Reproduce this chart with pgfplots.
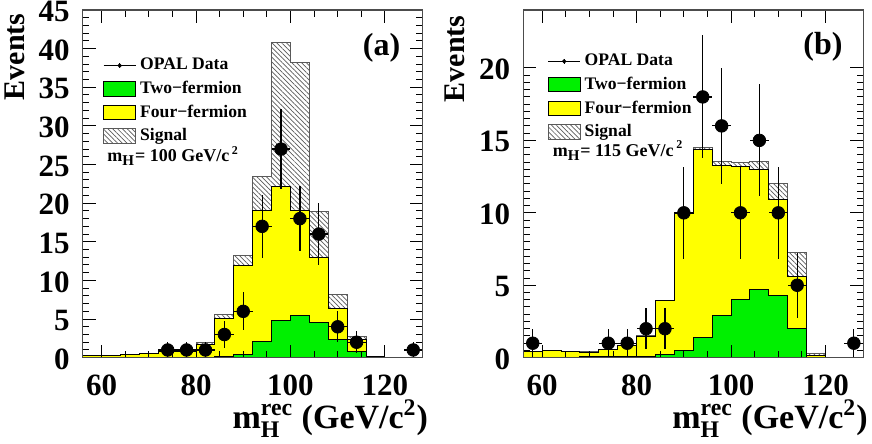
\documentclass[border=0pt]{standalone}
\usepackage{fontspec}
\setmainfont{Liberation Serif}
\usepackage{amsmath}
\usepackage{pgfplots}
\pgfplotsset{compat=1.18}
\usepackage{pgfplotstable}
\usetikzlibrary{patterns.meta}
\definecolor{rootgreen}{RGB}{0,240,0}
\definecolor{rootyellow}{RGB}{255,255,0}

% bin left edges (4 GeV bins), last row closes the histogram
% two = 2f, four = 2f+4f, sig = 2f+4f+signal (stacked tops)
\pgfplotstableread{
x   two  four  sig
56  0.02 0.25  0.30
60  0.02 0.30  0.32
64  0.03 0.40  0.45
68  0.05 0.50  0.55
72  0.05 0.75  0.85
76  0.05 0.85  1.00
80  0.05 1.65  2.00
84  0.20 5.10  5.60
88  0.45 11.9  13.2
92  2.05 19.1  23.5
96  4.80 22.1  40.8
100 5.50 19.1  38.2
104 4.50 13.0  18.9
108 2.30 6.40  8.20
112 0.75 2.30  2.70
116 0.00 0.10  0.15
120 0.00 0.00  0.02
124 0.00 0.00  0.00
128 0.00 0.00  0.00
}\histA

\pgfplotstableread{
x   two  four  sig
56  0.03 0.42  0.46
60  0.03 0.48  0.52
64  0.04 0.42  0.45
68  0.05 0.39  0.42
72  0.05 0.58  0.60
76  0.05 0.81  0.83
80  0.08 1.45  1.50
84  0.20 3.92  3.95
88  0.53 9.92  10.0
92  1.38 14.36 14.52
96  2.90 13.28 13.51
100 4.04 13.17 13.44
104 4.73 12.98 13.56
108 4.27 10.90 12.00
112 2.03 5.60  7.26
116 0.02 0.17  0.26
120 0.00 0.00  0.00
124 0.00 0.00  0.00
128 0.00 0.00  0.00
}\histB

\pgfplotstableread{
x   y  ex ey
74  1  2  1
78  1  2  1
82  1  2  1
86  3  2  1.73
90  6  2  2.45
94  17 2  4.12
98  27 2  5.20
102 18 2  4.24
106 16 2  4.00
110 4  2  2.00
114 2  2  1.41
126 1  2  1
}\dataA

\pgfplotstableread{
x   y  ex ey
58  1  2  1
74  1  2  1
78  1  2  1
82  2  2  1.41
86  2  2  1.41
90  10 2  3.16
94  18 2  4.24
98  16 2  4.00
102 10 2  3.16
106 15 2  3.87
110 10 2  3.16
114 5  2  2.24
126 1  2  1
}\dataB

\pgfplotsset{
  opalaxis/.style={
    scale only axis, width=170pt, height=173.85pt, anchor=south west,
    xmin=56, xmax=128, ymin=0,
    xtick={60,80,100,120}, minor x tick num=3,
    tick align=inside, xtick pos=both, ytick pos=both,
    xticklabel pos=lower, yticklabel pos=left,
    major tick length=6.5pt, minor tick length=3.3pt,
    axis on top,
    axis line style={gray!60!black, line width=0.7pt},
    every tick/.style={black, line width=0.5pt},
    ticklabel style={font=\bfseries\fontsize{15.5}{16}\selectfont},
    xticklabel style={yshift=-5pt},
    yticklabel style={xshift=-3pt, yshift=-0.75pt},
    /pgf/number format/assume math mode=true,
    reverse legend,
    legend cell align=left,
    legend style={draw=none, fill=none, anchor=north west, inner sep=0pt,
      font=\bfseries\fontsize{8.8}{10}\selectfont, row sep=0.15pt},
  },
  histo/.style={const plot, line width=0.5pt},
  box legend/.style={legend image code/.code={\draw[##1] (0pt,-3.6pt) rectangle (16pt,3.6pt);}},
  data legend/.style={legend image code/.code={
      \draw[black,line width=0.5pt] (0pt,0pt) -- (16pt,0pt);
      \draw[black,line width=0.5pt] (8pt,-1.2pt) -- (8pt,1.2pt);
      \fill[black] (8pt,0pt) circle (0.9pt);}},
  opaldata/.style={data legend, only marks, mark=*, mark size=3.15pt, black,
    error bars/.cd, x dir=both, x explicit, y dir=both, y explicit,
    error mark=none, error bar style={black, line width=0.6pt}},
  signalstyle/.style={histo, box legend, draw=gray!70!black,
    pattern={Lines[angle=-45,distance=1.7pt,line width=0.35pt]}, pattern color=gray!70!black},
}

\begin{document}
\begin{tikzpicture}
% (a) m_H = 100
\begin{axis}[opalaxis, at={(41.35pt,43.15pt)},
    ymax=45, ytick={0,5,...,45}, minor y tick num=4,
    legend style={at={(0.059,0.874)}}]
  \addplot[signalstyle] table[x=x,y=sig]{\histA} \closedcycle;
  \addlegendentry{Signal}
  \addplot[histo, box legend, draw=black, fill=rootyellow] table[x=x,y=four]{\histA} \closedcycle;
  \addlegendentry{Four−fermion}
  \addplot[histo, box legend, draw=black, fill=rootgreen] table[x=x,y=two]{\histA} \closedcycle;
  \addlegendentry{Two−fermion}
  \addplot[opaldata] table[x=x,y=y,x error=ex,y error=ey]{\dataA};
  \addlegendentry{OPAL Data}
  \node[anchor=west, font=\bfseries\fontsize{9}{10}\selectfont] at (rel axis cs:0.052,0.581)
    {m$_{\text{\fontsize{7.5}{8}\selectfont H}}$= 100 GeV/c$^{\,\text{2}}$};
  \node[font=\bfseries\fontsize{16}{18}\selectfont] at (rel axis cs:0.879,0.89) {(a)};
\end{axis}

% (b) m_H = 115
\begin{axis}[opalaxis, at={(261.65pt,43.15pt)},
    ymax=24, ytick={0,5,...,20}, minor y tick num=9,
    legend style={at={(0.0707,0.886)}}]
  \addplot[signalstyle] table[x=x,y=sig]{\histB} \closedcycle;
  \addlegendentry{Signal}
  \addplot[histo, box legend, draw=black, fill=rootyellow] table[x=x,y=four]{\histB} \closedcycle;
  \addlegendentry{Four−fermion}
  \addplot[histo, box legend, draw=black, fill=rootgreen] table[x=x,y=two]{\histB} \closedcycle;
  \addlegendentry{Two−fermion}
  \addplot[opaldata] table[x=x,y=y,x error=ex,y error=ey]{\dataB};
  \addlegendentry{OPAL Data}
  \node[anchor=west, font=\bfseries\fontsize{9}{10}\selectfont] at (rel axis cs:0.066,0.596)
    {m$_{\text{\fontsize{7.5}{8}\selectfont H}}$= 115 GeV/c$^{\,\text{2}}$};
  \node[font=\bfseries\fontsize{16}{18}\selectfont] at (rel axis cs:0.8816,0.894) {(b)};
\end{axis}

% axis titles
\node[rotate=90, anchor=east, inner sep=0pt, font=\bfseries\fontsize{15}{17}\selectfont]
  at (7.5pt,215.5pt) {Events};
\node[rotate=90, anchor=east, inner sep=0pt, font=\bfseries\fontsize{15}{17}\selectfont]
  at (227.5pt,214.5pt) {Events};
\node[anchor=base east, inner sep=0pt, font=\bfseries\fontsize{17}{19}\selectfont]
  at (214.15pt,7.85pt) {m$^{\text{rec}}_{\text{H}}$ (GeV/c$^{\text{2}}$)};
\node[anchor=base east, inner sep=0pt, font=\bfseries\fontsize{17}{19}\selectfont]
  at (434pt,7.85pt) {m$^{\text{rec}}_{\text{H}}$ (GeV/c$^{\text{2}}$)};

\pgfresetboundingbox
\useasboundingbox (0,0) rectangle (436pt,222pt);
\end{tikzpicture}
\end{document}
